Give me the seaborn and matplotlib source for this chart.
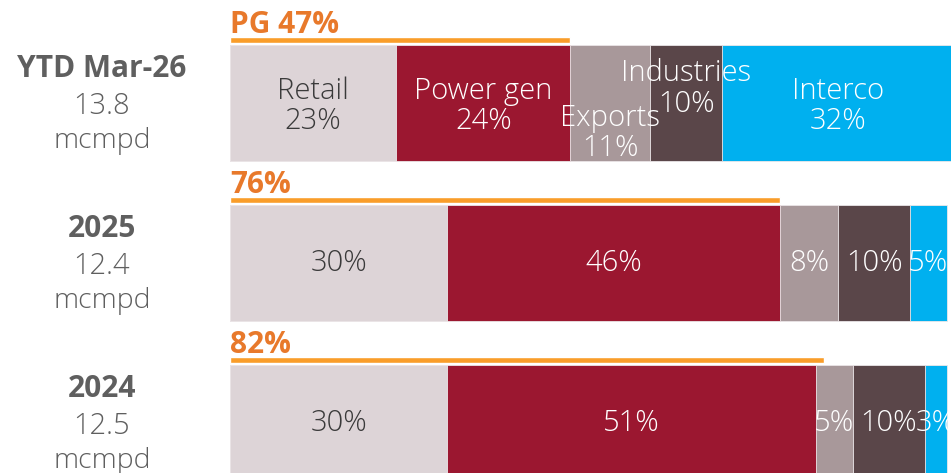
import matplotlib
matplotlib.use("Agg")
import matplotlib.pyplot as plt
import matplotlib.transforms as mtransforms
import numpy as np
import pandas as pd
import seaborn as sns

# data
periods = ["YTD Mar-26", "2025", "2024"]
volumes = ["13.8", "12.4", "12.5"]
segments = ["Retail", "Power gen", "Exports", "Industries", "Interco"]
retail = [23, 30, 30]
power_gen = [24, 46, 51]
exports = [11, 8, 5]
industries = [10, 10, 10]
interco = [32, 5, 3]
pg_share = [47, 76, 82]
pg_labels = ["PG 47%", "76%", "82%"]

colors = ["#DDD4D7", "#9B1730", "#A8989A", "#5A4649", "#00B0EF"]
text_colors = ["#3A3A3A", "white", "white", "white", "white"]
orange_bar = "#F99D2A"
orange_text = "#E8792B"
grey_text = "#5F5F5F"

sns.set_theme(style="white")
plt.rcParams["font.family"] = ["Open Sans", "DejaVu Sans"]

df = pd.DataFrame({"period": periods, "Retail": retail, "Power gen": power_gen,
                   "Exports": exports, "Industries": industries, "Interco": interco})
cum = df[segments].cumsum(axis=1)

fig = plt.figure(figsize=(9.51, 4.73), dpi=100)
ax = fig.add_axes([230 / 951, 0, 721 / 951, 1])

# stacked bars: draw cumulative totals, widest first
bar_h = 0.72
for seg, col in reversed(list(zip(segments, colors))):
    sns.barplot(x=cum[seg], y=df["period"], order=periods, orient="h",
                color=col, width=bar_h, saturation=1, ax=ax,
                edgecolor="#EDE8EA", linewidth=0.6)

# PG share bars above each row
pg_off = -0.395
ax.barh(np.arange(3) + pg_off, pg_share, height=0.038, left=0, color=orange_bar)
for i, lab in enumerate(pg_labels):
    ax.text(0, i - 0.435, lab, color=orange_text, fontsize=21.5,
            fontweight="bold", ha="left", va="baseline")

# segment labels
for i in range(3):
    lefts = (cum.iloc[i] - df[segments].iloc[i]).values
    for j, seg in enumerate(segments):
        val = df[seg].iloc[i]
        xc = lefts[j] + val / 2
        if i == 0:
            dy = {"Exports": 0.19, "Industries": -0.09}.get(seg, 0.02)
            txt = f"{seg}\n{val}%"
        else:
            dy = 0
            txt = f"{val}%"
        ax.text(xc, i + dy, txt, ha="center", va="center", fontsize=21,
                color=text_colors[j], fontweight="light", linespacing=1.05)

# left labels
trans = mtransforms.blended_transform_factory(fig.transFigure, ax.transData)
for i in range(3):
    xl = 102 / 951
    ax.text(xl, i - 0.21, periods[i], transform=trans, ha="center", va="center",
            fontsize=21.5, fontweight="bold", color=grey_text, clip_on=False)
    ax.text(xl, i + 0.02, volumes[i], transform=trans, ha="center", va="center",
            fontsize=21, color=grey_text, fontweight="light", clip_on=False)
    ax.text(xl, i + 0.235, "mcmpd", transform=trans, ha="center", va="center",
            fontsize=20.5, color=grey_text, fontweight="light", clip_on=False)

ax.set_xlim(0, 99.6)
ax.set_ylim(370 / 160, -103 / 160)
ax.set_xlabel("")
ax.set_ylabel("")
ax.set_xticks([])
ax.set_yticks([])
sns.despine(ax=ax, left=True, bottom=True)

fig.savefig("out.png", dpi=100)
